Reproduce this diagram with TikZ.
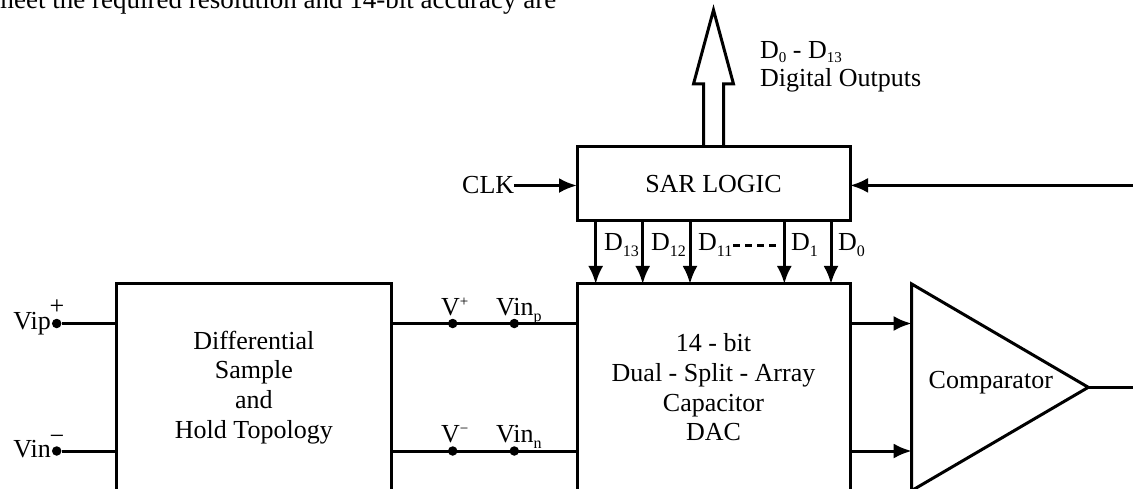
\documentclass[tikz,border=0pt]{standalone}
\usepackage{fontspec}
\setmainfont{Liberation Serif}
\usetikzlibrary{arrows.meta}
\newcommand{\dsub}[1]{\raisebox{-6pt}{\fontsize{16}{16}\selectfont #1}}
\newcommand{\dsubs}[1]{\raisebox{-4pt}{\fontsize{15}{15}\selectfont #1}}
\newcommand{\dsup}[1]{\raisebox{9pt}{\fontsize{15}{15}\selectfont #1}}
\begin{document}
\begin{tikzpicture}[x=1pt,y=-1pt,
  lw/.style={line width=3pt},
  blk/.style={draw, lw, rectangle, outer sep=0pt, inner sep=0pt},
  txt/.style={font=\fontsize{26}{29.7}\selectfont, inner sep=0pt, align=center},
  arr/.style={lw, -{Latex[length=18pt,width=15pt]}},
  dotn/.style={circle, fill, draw=none, inner sep=0pt, minimum size=9.5pt},
]
\useasboundingbox (0,0) rectangle (1133,489);
\clip (0,0) rectangle (1133,489);

% partial running text at the top
\node[font=\fontsize{27}{30}\selectfont, anchor=base west, inner sep=0pt] (toptext) at (-7,8.5) {meet the required resolution and 14-bit accuracy are};

% blocks
\node[blk, minimum width=273pt, minimum height=74pt, txt] (sar) at (713.5,184) {SAR LOGIC};
\node[blk, minimum width=273pt, minimum height=260pt] (dac) at (713.5,414) {};
\node[blk, minimum width=274.3pt, minimum height=260pt] (sh) at (253.85,414) {};
\node[txt, anchor=base] (dactxt) at (713.5,440.7) {14 - bit\\Dual - Split - Array\\Capacitor\\DAC};
\node[txt, anchor=base] (shtxt) at (253.85,438.3) {Differential\\Sample\\and\\Hold Topology};

% comparator
\coordinate (cmpT) at (911.7,284);
\coordinate (cmpB) at (911.7,490.6);
\coordinate (cmpO) at (1088.3,387.3);
\coordinate (cin1) at (911.7,323.5);
\coordinate (cin2) at (911.7,451);
\coordinate (rend) at (1140,387.3);
\draw[lw, line join=miter] (cmpT) -- (cmpO) -- (cmpB) -- cycle;
\node[txt, anchor=base] (cmptxt) at (990.8,388) {Comparator};
\draw[lw] (cmpO) -- (rend);

% DAC to comparator
\draw[arr] (dac.east |- cin1) -- (cin1);
\draw[arr] (dac.east |- cin2) -- (cin2);

% inputs
\node[dotn] (vipdot) at (56.7,323.5) {};
\node[dotn] (vindot) at (56.7,451) {};
\node[txt, anchor=base east] (viplbl) at (51,329) {Vip};
\node[txt, anchor=base east] (vinlbl) at (51,457) {Vin};
\node[txt, anchor=base] (plus) at (57,314.5) {+};
\node[txt, anchor=base] (minus) at (57,444) {\char"2212};
\draw[lw] (vipdot) -- (sh.west |- vipdot);
\draw[lw] (vindot) -- (sh.west |- vindot);

% S/H to DAC
\draw[lw] (sh.east |- 0,323.5) -- (dac.west |- 0,323.5);
\draw[lw] (sh.east |- 0,451) -- (dac.west |- 0,451);
\node[dotn] (vp1) at (452.7,323.5) {};
\node[dotn] (vp2) at (514.3,323.5) {};
\node[dotn] (vn1) at (452.7,451) {};
\node[dotn] (vn2) at (514.3,451) {};
\node[txt, anchor=base west] (vplbl) at (441,315) {V\dsup{+}};
\node[txt, anchor=base west] (vinplbl) at (496,315) {Vin\dsub{p}};
\node[txt, anchor=base west] (vnlbl) at (441,442) {V\dsup{\char"2212}};
\node[txt, anchor=base west] (vinnlbl) at (496,442) {Vin\dsub{n}};

% CLK and feedback into SAR
\node[txt, anchor=base west] (clk) at (462,194) {CLK};
\draw[arr] (clk.east) -- (clk.east -| sar.west);
\coordinate (fb) at (1140,185.4);
\draw[arr] (fb) -- (fb -| sar.east);

% SAR to DAC bit lines
\foreach \dx in {18.7,65.7,113,207.3,254} {
  \draw[arr] ([xshift=\dx pt]sar.south west) -- ([xshift=\dx pt]dac.north west);
}
\node[txt, anchor=base west] (d13) at (604,251) {D\dsub{13}};
\node[txt, anchor=base west] (d12) at (651,251) {D\dsub{12}};
\node[txt, anchor=base west] (d11) at (698,251) {D\dsub{11}};
\node[txt, anchor=base west] (d1) at (791,251) {D\dsub{1}};
\node[txt, anchor=base west] (d0) at (838,251) {D\dsub{0}};
\draw[lw, dash pattern=on 7pt off 5pt] (733,246) -- (777,246);

% digital outputs (hollow arrow)
\draw[lw, line join=miter] ([xshift=-10pt]sar.north) -- ++(0,-63) -- ++(-10,0) -- ++(20,-74) -- ++(20,74) -- ++(-10,0) -- ++(0,63);
\node[txt, anchor=base west] (dout1) at (760,59) {D\dsubs{0} - D\dsubs{13}};
\node[txt, anchor=base west] (dout2) at (760,87) {Digital Outputs};
\end{tikzpicture}
\end{document}
